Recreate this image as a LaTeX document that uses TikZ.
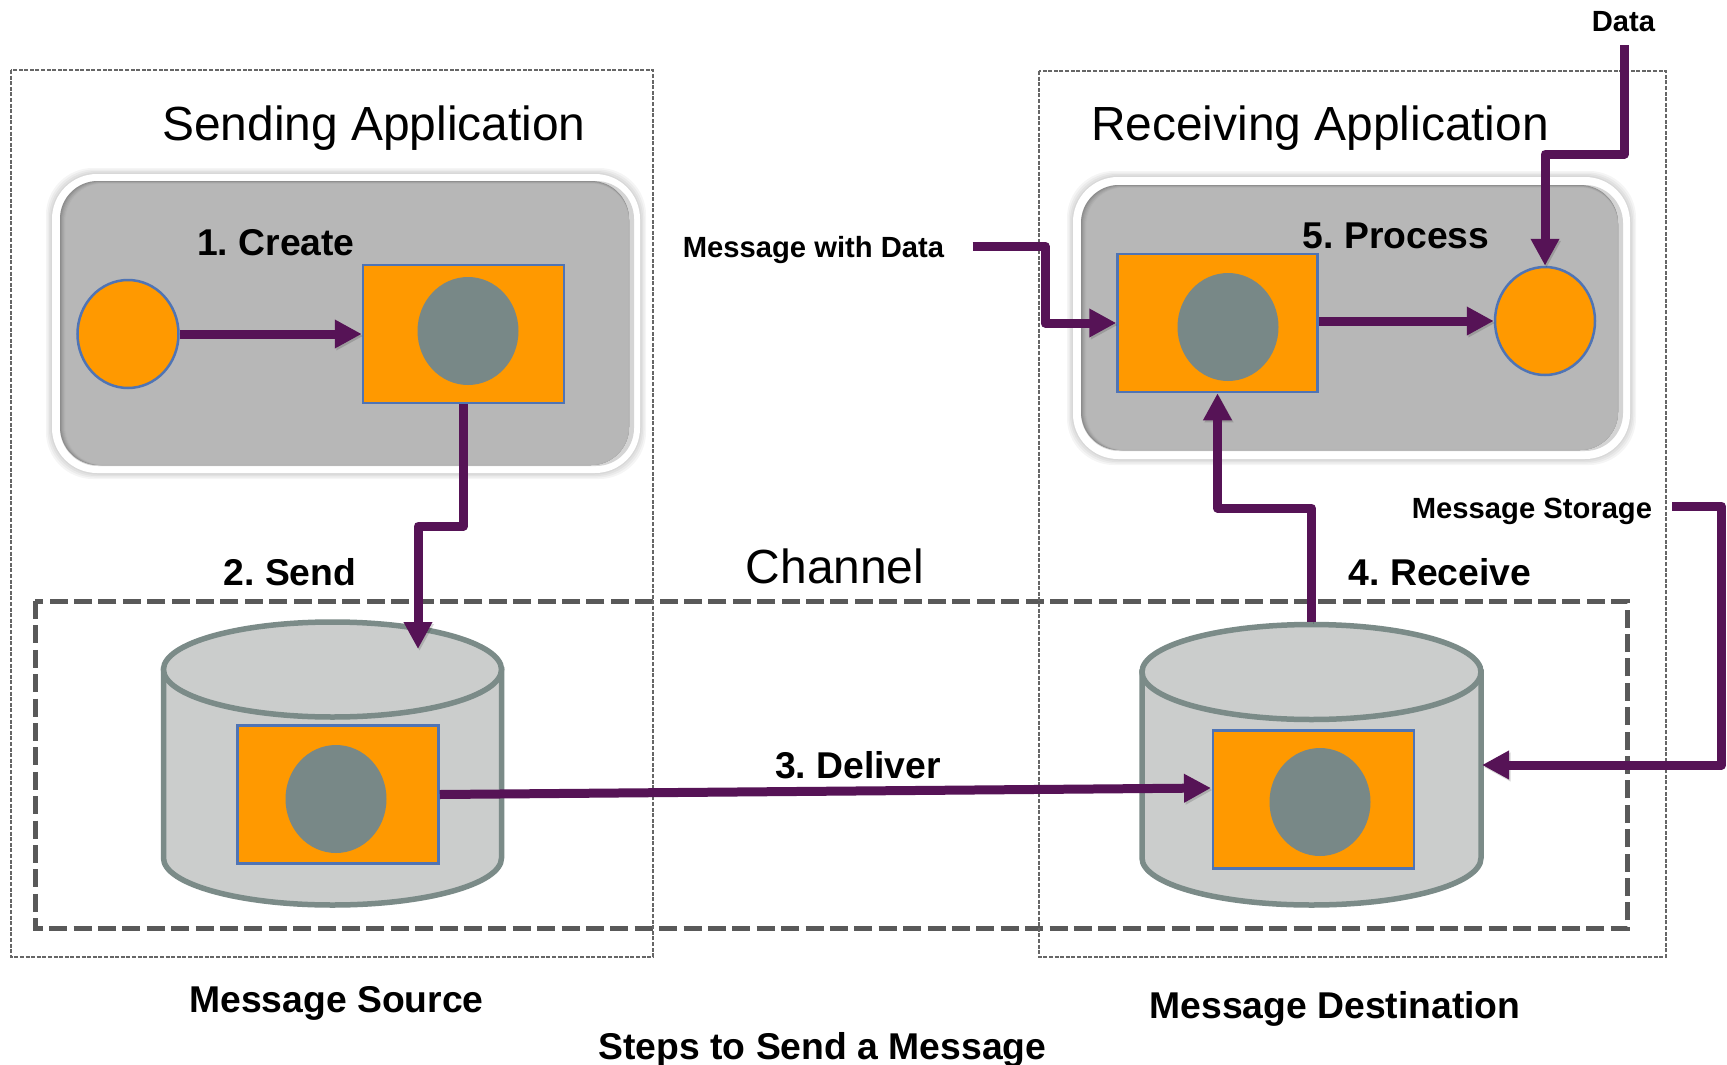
\documentclass[tikz,border=0pt]{standalone}
\usepackage{fontspec}
\setmainfont{Liberation Sans}
\usetikzlibrary{arrows.meta,shapes.geometric}
\definecolor{orangefill}{HTML}{FF9900}
\definecolor{blueedge}{HTML}{4F74B5}
\definecolor{slatefill}{HTML}{788887}
\definecolor{purpleconn}{HTML}{561356}
\definecolor{cylfill}{HTML}{CBCDCC}
\definecolor{cyledge}{HTML}{7B8B88}
\definecolor{panelfill}{HTML}{B7B7B7}
\tikzset{
  thinbox/.style={draw=black!60,line width=1.3pt,dash pattern=on 4pt off 1.6pt},
  channelbox/.style={draw=black!65,line width=5pt,dash pattern=on 18pt off 6.4pt},
  conn/.style={draw=purpleconn,line width=9pt,line join=round,preaction={draw=black,opacity=.15,transform canvas={shift={(1.5pt,-2pt)}}}},
  connarrow/.style={conn,-{Triangle[length=27pt,width=27pt]}},
  msgrect/.style={rectangle,draw=blueedge,fill=orangefill,line width=2.5pt,inner sep=0pt},
  oval/.style={ellipse,draw=blueedge,fill=orangefill,line width=2.5pt,inner sep=0pt,minimum width=100pt,minimum height=108pt},
  slate/.style={ellipse,fill=slatefill,inner sep=0pt,minimum width=101pt,minimum height=108pt},
  cyltop/.style={ellipse,draw=cyledge,fill=cylfill,line width=5.5pt,inner sep=0pt},
  cylbody/.style={draw=cyledge,fill=cylfill,line width=5.5pt},
  bigtxt/.style={anchor=base,font=\fontsize{47.9}{50}\selectfont\frenchspacing,inner sep=0pt},
  steptxt/.style={anchor=base,font=\fontsize{37.3}{40}\selectfont\bfseries\frenchspacing,inner sep=0pt},
  smalltxt/.style={anchor=base,font=\fontsize{29.2}{32}\selectfont\bfseries\frenchspacing,inner sep=0pt},
}
% outer x0,y0,x1,y1  inner x0,y0,x1,y1
\newcommand{\panelshape}[8]{%
  \foreach \s in {6,4.5,3,1.5}{
    \fill[black,opacity=.04,rounded corners=47pt] (#1-\s,#2-\s) rectangle (#3+\s,#4+\s);
  }
  \fill[white,rounded corners=45pt] (#1,#2) rectangle (#3,#4);
  \fill[black!17,rounded corners=38pt] (#5,#6) rectangle (#7,#8);
  \foreach \i/\c in {0/45,1/41,2/37,3/34,4/31,5/29}{
    \fill[black!\c,rounded corners=38pt] (#5+\i,#6+\i/2) rectangle (#7-5,#8-1);
  }
  \fill[panelfill,rounded corners=36pt] (#5+6,#6+3) rectangle (#7-6,#8-2);
}
\begin{document}
\begin{tikzpicture}[x=1pt,y=-1pt]
\useasboundingbox (0,0) rectangle (1727,1065);
\fill[white] (0,0) rectangle (1727,1065);

% application panels
\panelshape{52}{174}{640}{473}{60}{181}{634}{466}
\panelshape{1073}{177}{1630}{459}{1081}{185}{1623}{451}

% channel
\draw[channelbox] (35,601) rectangle (1627,928.5);

% thin boxes
\draw[thinbox] (11,70) rectangle (653,957);
\draw[thinbox] (1039,71) rectangle (1666,957);

% left cylinder
\path[cylbody] (163.5,669.5) -- (163.5,858) .. controls (163.5,884) and (239.2,905) .. (332.5,905)
  .. controls (425.8,905) and (501.5,884) .. (501.5,858) -- (501.5,669.5) -- cycle;
\node[cyltop,minimum width=338pt,minimum height=95pt] (cylA) at (332.5,669.5) {};
% right cylinder
\path[cylbody] (1142,672) -- (1142,858) .. controls (1142,884) and (1218,905) .. (1311.5,905)
  .. controls (1405,905) and (1481,884) .. (1481,858) -- (1481,672) -- cycle;
\node[cyltop,minimum width=339pt,minimum height=95pt] (cylB) at (1311.5,672) {};

% messages
\node[oval,minimum width=101pt] (dataA) at (128,334) {};
\node[msgrect,minimum width=201pt,minimum height=138pt] (msgA) at (463.5,334) {};
\node[slate] (coreA) at (468,331) {};

\node[msgrect,minimum width=201pt,minimum height=138pt] (msgB) at (338,794.5) {};
\node[slate] (coreB) at (336,799) {};

\node[msgrect,minimum width=201pt,minimum height=138pt] (msgC) at (1313.5,799.5) {};
\node[slate] (coreC) at (1320,802) {};

\node[msgrect,minimum width=200pt,minimum height=138pt] (msgD) at (1217.5,323) {};
\node[slate] (coreD) at (1228,327) {};
\node[oval] (dataB) at (1545,321) {};

% texts
\node[bigtxt] (tSend) at (374,140) {Sending Application};
\node[bigtxt] (tRecv) at (1320,140) {Receiving Application};
\node[bigtxt] (tChan) at (835,583) {Channel};
\node[steptxt] (s1) at (276,255) {1. Create};
\node[steptxt] (s2) at (290,585) {2. Send};
\node[steptxt] (s3) at (858,778) {3. Deliver};
\node[steptxt] (s4) at (1440,585) {4. Receive};
\node[steptxt] (s5) at (1396,248) {5. Process};
\node[steptxt] (lSrc) at (336.5,1012) {Message Source};
\node[steptxt] (lDst) at (1335,1018) {Message Destination};
\node[steptxt] (lCap) at (822.5,1059) {Steps to Send a Message};
\node[smalltxt] (lData) at (1623.5,32) {Data};
\node[smalltxt] (lMsg) at (813.5,257) {Message with Data};
\node[smalltxt] (lStore) at (1532,518) {Message Storage};

% connector way points
\coordinate (aStart) at (972.5,246);
\coordinate (aB1) at (1045,246);
\coordinate (aB2) at (1045,323);
\coordinate (dStart) at (1624.5,45.5);
\coordinate (dB1) at (1624.5,154);
\coordinate (dB2) at (1545,154);
\coordinate (sStart) at (1672,506);
\coordinate (sB1) at (1721.5,506);
\coordinate (sB2) at (1721.5,765);
\coordinate (sEnd) at (1482,765);
\coordinate (cB1) at (463.5,526);
\coordinate (cB2) at (418,526);
\coordinate (cEnd) at (418,649);
\coordinate (rB1) at (1311.5,508);
\coordinate (rB2) at (1217.5,508);
\coordinate (delEnd) at (1211,788);

% connectors
\draw[connarrow] (dataA.east) -- (msgA.west);
\draw[connarrow] (msgA.south) -- (cB1) -- (cB2) -- (cEnd);
\draw[connarrow] (msgB.east) -- (delEnd);
\draw[connarrow] (cylB.north) -- (rB1) -- (rB2) -- (msgD.south);
\draw[connarrow] (msgD.east |- dataB.west) -- (dataB.west);
\draw[connarrow] (aStart) -- (aB1) -- (aB2) -- (msgD.west);
\draw[connarrow] (dStart) -- (dB1) -- (dB2) -- (dataB.north);
\draw[connarrow] (sStart) -- (sB1) -- (sB2) -- (sEnd);
\end{tikzpicture}
\end{document}
